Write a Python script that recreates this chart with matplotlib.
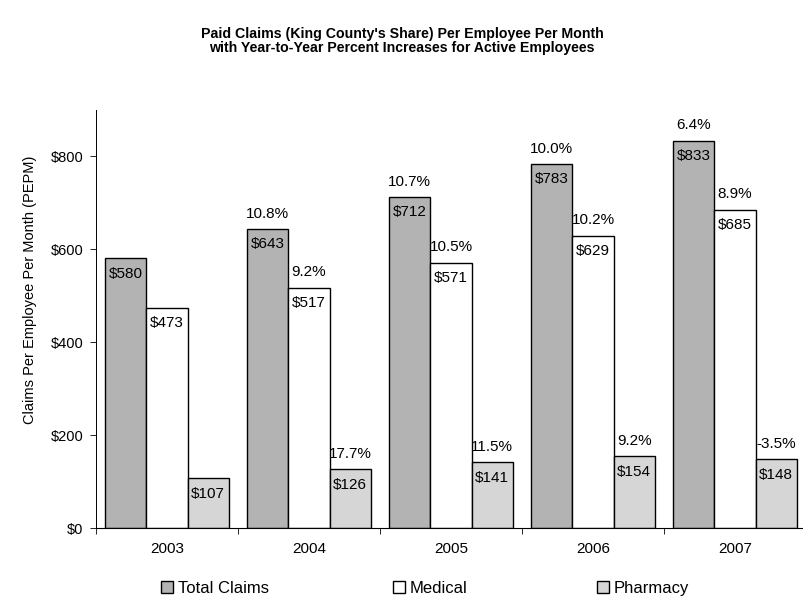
import numpy as np
import matplotlib
matplotlib.use('Agg')
import matplotlib.pyplot as plt

plt.rcParams['font.family'] = ['Liberation Sans', 'DejaVu Sans']

# Chart data
years = ['2003', '2004', '2005', '2006', '2007']
total_claims = [580, 643, 712, 783, 833]
medical = [473, 517, 571, 629, 685]
pharmacy = [107, 126, 141, 154, 148]
total_pct = [None, '10.8%', '10.7%', '10.0%', '6.4%']
medical_pct = [None, '9.2%', '10.5%', '10.2%', '8.9%']
pharmacy_pct = [None, '17.7%', '11.5%', '9.2%', '-3.5%']

fig = plt.figure(figsize=(8.04, 6.02), dpi=100)
ax = fig.add_axes([0.1194, 0.1229, 0.883, 0.695])

x = np.arange(len(years))
w = 0.29
series = [
    (total_claims, total_pct, '#b3b3b3', 'Total Claims', -w),
    (medical, medical_pct, 'white', 'Medical', 0),
    (pharmacy, pharmacy_pct, '#d6d6d6', 'Pharmacy', w),
]

handles = []
for vals, pcts, color, name, off in series:
    bars = ax.bar(x + off, vals, w, color=color, edgecolor='black',
                  linewidth=1.0, label=name)
    handles.append(bars)
    for b, v, p in zip(bars, vals, pcts):
        cx = b.get_x() + b.get_width() / 2
        ax.annotate(f'${v}', (cx, v), xytext=(0, -6), textcoords='offset points',
                    ha='center', va='top', fontsize=11)
        if p:
            ax.annotate(p, (cx, v), xytext=(0, 6), textcoords='offset points',
                        ha='center', va='bottom', fontsize=11)

ax.set_xlim(-0.5, 4.5)
ax.set_ylim(0, 900)
ax.set_yticks([0, 200, 400, 600, 800])
ax.set_yticklabels(['$0', '$200', '$400', '$600', '$800'], fontsize=10.5)
ax.set_xticks(x)
ax.set_xticklabels(years, fontsize=11)
ax.set_xticks(np.arange(-0.5, 5, 1), minor=True)
ax.tick_params(axis='x', which='major', length=0, pad=10)
ax.tick_params(axis='x', which='minor', length=4, width=0.6)
ax.tick_params(axis='y', length=4, width=0.6, direction='out', pad=5)
for s in ['top', 'right']:
    ax.spines[s].set_visible(False)
ax.spines['left'].set_linestyle((0, (2, 1)))
ax.spines['left'].set_linewidth(0.7)
ax.spines['bottom'].set_linewidth(0.8)

ax.set_ylabel('Claims Per Employee Per Month (PEPM)', fontsize=10.5)
ax.yaxis.set_label_coords(-0.083, 0.57)

fig.text(0.5, 0.943, "Paid Claims (King County's Share) Per Employee Per Month",
         ha='center', va='center', fontsize=10.2, fontweight='bold')
fig.text(0.5, 0.920, 'with Year-to-Year Percent Increases for Active Employees',
         ha='center', va='center', fontsize=10.2, fontweight='bold')

# one legend per entry so the entries sit where the original puts them
legend_x = [161 / 804, 393 / 804, 597 / 804]
for h, (_, _, _, name, _), lx in zip(handles, series, legend_x):
    fig.legend([h], [name], loc='center left', bbox_to_anchor=(lx, 0.023),
               frameon=False, fontsize=12, handlelength=0.7,
               handleheight=0.7, handletextpad=0.3, borderpad=0,
               borderaxespad=0)

fig.savefig('out.png', dpi=100)
